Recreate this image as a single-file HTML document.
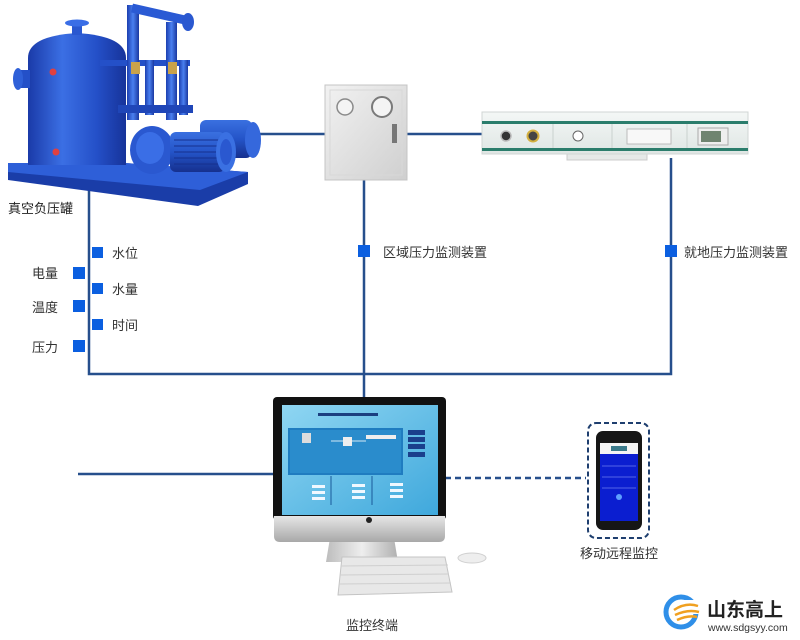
<!DOCTYPE html>
<html><head><meta charset="utf-8"><style>
html,body{margin:0;padding:0;background:#fff;}
svg{display:block;}
text{font-family:"Liberation Sans","Noto Sans CJK SC",sans-serif;}
</style></head><body>
<svg width="800" height="640" viewBox="0 0 800 640" xmlns="http://www.w3.org/2000/svg">
<defs>
<linearGradient id="tank" x1="0" x2="1" y1="0" y2="0">
<stop offset="0" stop-color="#1a3aa8"/><stop offset="0.35" stop-color="#3b6fe4"/><stop offset="0.7" stop-color="#2450c8"/><stop offset="1" stop-color="#17339a"/></linearGradient>
<linearGradient id="pipe" x1="0" x2="1"><stop offset="0" stop-color="#1c3fb0"/><stop offset="0.5" stop-color="#4a80f0"/><stop offset="1" stop-color="#1a38a0"/></linearGradient>
<linearGradient id="motor" x1="0" x2="0" y1="0" y2="1"><stop offset="0" stop-color="#3a70e0"/><stop offset="0.5" stop-color="#2454c8"/><stop offset="1" stop-color="#16308e"/></linearGradient>
<linearGradient id="panel" x1="0" x2="1" y1="0" y2="1"><stop offset="0" stop-color="#f2f2f2"/><stop offset="1" stop-color="#cfcfcf"/></linearGradient>
<linearGradient id="strip" x1="0" x2="0" y1="0" y2="1"><stop offset="0" stop-color="#f4f7f6"/><stop offset="1" stop-color="#dfe6e4"/></linearGradient>
<linearGradient id="screen" x1="0" x2="1" y1="0" y2="1"><stop offset="0" stop-color="#8fd6f2"/><stop offset="1" stop-color="#3fa8dc"/></linearGradient>
<linearGradient id="chin" x1="0" x2="0" y1="0" y2="1"><stop offset="0" stop-color="#e6e6e6"/><stop offset="1" stop-color="#a8a8a8"/></linearGradient>
<linearGradient id="stand" x1="0" x2="1"><stop offset="0" stop-color="#bdbdbd"/><stop offset="0.5" stop-color="#eeeeee"/><stop offset="1" stop-color="#b0b0b0"/></linearGradient>
</defs>

<!-- connector lines -->
<g stroke="#264f8c" stroke-width="2.5" fill="none">
<polyline points="89,190 89,374 671,374 671,158"/>
<line x1="364" y1="178" x2="364" y2="400"/>
<line x1="255" y1="134" x2="484" y2="134"/>
<line x1="78" y1="474" x2="278" y2="474"/>
<line x1="445" y1="478" x2="586" y2="478" stroke-dasharray="6,4"/>
</g>

<!-- tank equipment -->
<g>
<polygon points="8,163 125,163 248,172 248,184 198,206 8,180" fill="#1a3da8"/>
<polygon points="8,163 125,163 248,172 200,190 8,172" fill="#2e5fd8"/>
<path d="M28,58 Q28,36 77,33 Q126,36 126,58 L126,165 L28,165 Z" fill="url(#tank)"/>
<rect x="72" y="22" width="10" height="13" fill="#2a58d0"/>
<ellipse cx="77" cy="23" rx="12" ry="3.5" fill="#3a6ee6"/>
<rect x="18" y="70" width="12" height="18" fill="#2450c8"/>
<ellipse cx="18" cy="79" rx="5" ry="11" fill="#2f60d8"/>
<circle cx="53" cy="72" r="3.5" fill="#e04040"/>
<circle cx="56" cy="152" r="3.5" fill="#e04040"/>
<rect x="100" y="60" width="90" height="6" fill="#2450c8"/>
<rect x="127" y="5" width="12" height="115" fill="url(#pipe)"/>
<rect x="166" y="22" width="11" height="98" fill="url(#pipe)"/>
<rect x="145" y="60" width="9" height="55" fill="url(#pipe)"/>
<rect x="179" y="60" width="9" height="55" fill="url(#pipe)"/>
<path d="M132,8 L185,20" stroke="#2a5ad4" stroke-width="9"/>
<ellipse cx="188" cy="22" rx="6" ry="9" fill="#2a58d0"/>
<rect x="131" y="62" width="9" height="12" fill="#c9a24a"/>
<rect x="168" y="62" width="9" height="12" fill="#c9a24a"/>
<rect x="118" y="105" width="75" height="8" fill="#1f46b8"/>
<ellipse cx="152" cy="150" rx="22" ry="24" fill="#2a58d0"/>
<ellipse cx="150" cy="148" rx="14" ry="16" fill="#3a6ee6"/>
<rect x="200" y="120" width="52" height="38" rx="6" fill="url(#motor)"/>
<ellipse cx="253" cy="140" rx="8" ry="18" fill="#3568dc"/>
<rect x="170" y="132" width="55" height="40" rx="6" fill="url(#motor)"/>
<g stroke="#16308e" stroke-width="1"><line x1="174" y1="140" x2="220" y2="140"/><line x1="174" y1="146" x2="220" y2="146"/><line x1="174" y1="152" x2="220" y2="152"/><line x1="174" y1="158" x2="220" y2="158"/><line x1="174" y1="164" x2="220" y2="164"/></g>
<ellipse cx="226" cy="152" rx="10" ry="20" fill="#3a70e2"/>
<ellipse cx="226" cy="152" rx="6" ry="13" fill="#2a58d0"/>
</g>
<text x="8" y="213" font-size="13" fill="#222">真空负压罐</text>

<!-- region pressure panel -->
<rect x="325" y="85" width="82" height="95" fill="url(#panel)" stroke="#c4c4c4"/>
<rect x="330" y="90" width="72" height="85" fill="none" stroke="#d8d8d8"/>
<circle cx="345" cy="107" r="8" fill="#f4f4f4" stroke="#8a8a8a" stroke-width="1.5"/>
<circle cx="382" cy="107" r="10" fill="#f4f4f4" stroke="#7a7a7a" stroke-width="2"/>
<rect x="392" y="124" width="5" height="19" fill="#777"/>

<!-- local pressure strip -->
<rect x="567" y="152" width="80" height="8" fill="#e6e9e8" stroke="#ccc"/>
<rect x="482" y="112" width="266" height="42" fill="url(#strip)" stroke="#d0d6d4"/>
<rect x="482" y="121" width="266" height="3" fill="#2b7d6c"/>
<rect x="482" y="148" width="266" height="3" fill="#2b7d6c"/>
<g stroke="#c9d1ce"><line x1="553" y1="124" x2="553" y2="148"/><line x1="612" y1="124" x2="612" y2="148"/><line x1="687" y1="124" x2="687" y2="148"/></g>
<circle cx="506" cy="136" r="5" fill="#333" stroke="#bbb" stroke-width="1.5"/>
<circle cx="533" cy="136" r="5.5" fill="#444" stroke="#d4b040" stroke-width="2"/>
<circle cx="578" cy="136" r="5" fill="#fff" stroke="#666"/>
<rect x="627" y="129" width="44" height="15" fill="#f8f8f8" stroke="#bbb"/>
<rect x="698" y="128" width="30" height="17" fill="#eee" stroke="#aaa"/>
<rect x="701" y="131" width="20" height="11" fill="#6f8470"/>

<!-- square markers -->
<g fill="#0b5fe0">
<rect x="358" y="245" width="12" height="12"/>
<rect x="665" y="245" width="12" height="12"/>
<rect x="73" y="267" width="12" height="12"/>
<rect x="73" y="300" width="12" height="12"/>
<rect x="73" y="340" width="12" height="12"/>
<rect x="92" y="247" width="11" height="11"/>
<rect x="92" y="283" width="11" height="11"/>
<rect x="92" y="319" width="11" height="11"/>
</g>
<g font-size="13" fill="#333">
<text x="383" y="257">区域压力监测装置</text>
<text x="684" y="257">就地压力监测装置</text>
<text x="112" y="258">水位</text>
<text x="112" y="294">水量</text>
<text x="112" y="330">时间</text>
<text x="32" y="278">电量</text>
<text x="32" y="312">温度</text>
<text x="32" y="352">压力</text>
</g>

<!-- monitor -->
<polygon points="330,538 394,538 398,562 326,562" fill="url(#stand)"/>
<rect x="273" y="397" width="173" height="123" rx="4" fill="#111"/>
<path d="M274,516 L445,516 L445,536 Q445,542 439,542 L280,542 Q274,542 274,536 Z" fill="url(#chin)"/>
<circle cx="369" cy="520" r="3" fill="#222"/>
<rect x="282" y="405" width="156" height="110" fill="url(#screen)"/>
<rect x="288" y="428" width="115" height="47" fill="#1f7cc0"/>
<rect x="290" y="430" width="111" height="43" fill="#2a8ccc"/>
<rect x="318" y="413" width="60" height="3" fill="#1b3f80"/>
<g fill="#1a3f8c"><rect x="408" y="430" width="17" height="5"/><rect x="408" y="437" width="17" height="5"/><rect x="408" y="444" width="17" height="5"/><rect x="408" y="452" width="17" height="5"/></g>
<rect x="302" y="433" width="9" height="10" fill="#ddd"/>
<rect x="343" y="437" width="9" height="9" fill="#eee"/>
<rect x="366" y="435" width="30" height="4" fill="#eee"/>
<g stroke="#fff" stroke-width="0.8"><line x1="331" y1="441" x2="343" y2="441"/><line x1="352" y1="441" x2="366" y2="441"/></g>
<g stroke="#1a5a9a"><line x1="331" y1="476" x2="331" y2="505"/><line x1="372" y1="476" x2="372" y2="505"/></g>
<g fill="#f0f8ff"><rect x="312" y="485" width="13" height="3"/><rect x="312" y="491" width="13" height="3"/><rect x="312" y="497" width="13" height="3"/><rect x="352" y="484" width="13" height="3"/><rect x="352" y="490" width="13" height="3"/><rect x="352" y="496" width="13" height="3"/><rect x="390" y="483" width="13" height="3"/><rect x="390" y="489" width="13" height="3"/><rect x="390" y="495" width="13" height="3"/></g>
<polygon points="342,557 445,557 452,592 338,595" fill="#e8e8e8" stroke="#c4c4c4"/>
<g stroke="#cfcfcf" stroke-width="1"><line x1="341" y1="566" x2="448" y2="565"/><line x1="340" y1="575" x2="449" y2="574"/><line x1="339" y1="584" x2="451" y2="583"/></g>
<ellipse cx="472" cy="558" rx="14" ry="5" fill="#eeeeee" stroke="#cfcfcf"/>
<text x="346" y="630" font-size="13" fill="#333">监控终端</text>

<!-- phone -->
<rect x="588" y="423" width="61" height="115" rx="8" fill="none" stroke="#1f3f6f" stroke-width="2" stroke-dasharray="5,3"/>
<rect x="596" y="431" width="46" height="99" rx="7" fill="#161616"/>
<rect x="600" y="443" width="38" height="78" fill="#0b1ed0"/>
<rect x="600" y="443" width="38" height="11" fill="#f4f4f4"/>
<rect x="611" y="446" width="16" height="5" fill="#3a7a8a"/>
<g stroke="#6c7cf0" stroke-width="0.8"><line x1="602" y1="466" x2="636" y2="466"/><line x1="602" y1="477" x2="636" y2="477"/><line x1="602" y1="488" x2="636" y2="488"/></g>
<circle cx="619" cy="497" r="3" fill="#5fa0ff"/>
<text x="580" y="558" font-size="13" fill="#333">移动远程监控</text>

<!-- logo -->
<circle cx="681" cy="612" r="15" fill="none" stroke="#2f8fe8" stroke-width="5"/>
<rect x="684" y="600" width="16" height="14" fill="#fff"/>
<path d="M674,610 Q686,602 698,606 M675,615 Q688,609 699,612 M677,620 Q688,615 697,617" stroke="#f0a020" stroke-width="2.5" fill="none"/>
<text x="707" y="616" font-size="19" font-weight="bold" fill="#222" font-family="'Liberation Serif','Noto Serif CJK SC',serif">山东高上</text>
<text x="708" y="631" font-size="10.5" fill="#333">www.sdgsyy.com</text>
</svg>
</body></html>
